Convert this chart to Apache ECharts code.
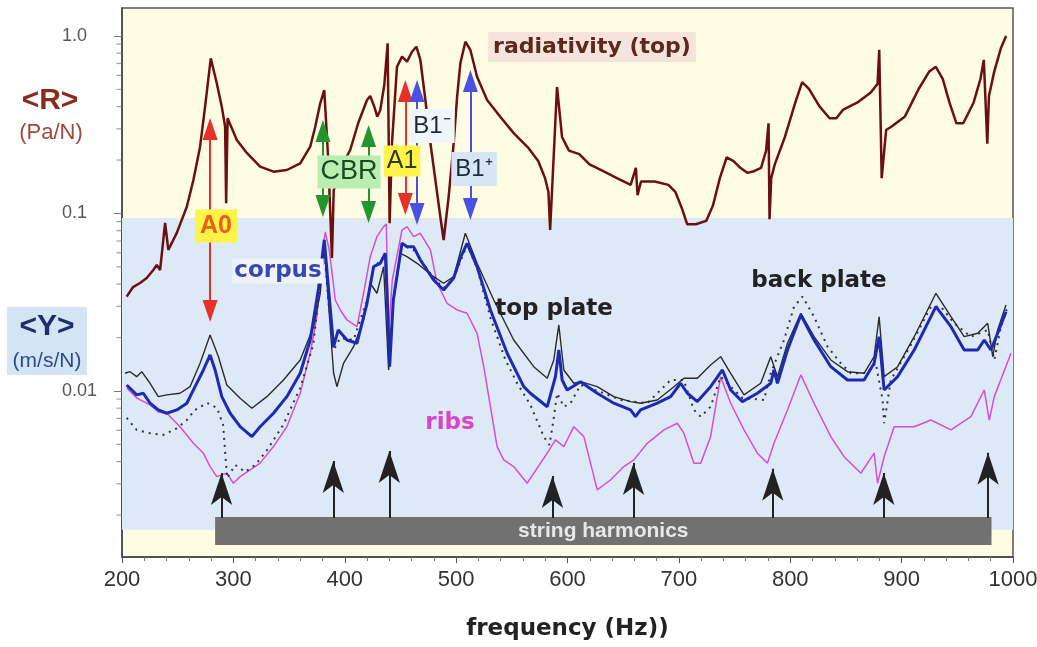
<!DOCTYPE html>
<html>
<head>
<meta charset="utf-8">
<title>radiativity and admittance</title>
<script src="https://cdn.jsdelivr.net/npm/echarts@6/dist/echarts.min.js"></script>
<style>
  html, body { margin: 0; padding: 0; background: #fff; }
  #chart { width: 1037px; height: 647px; }
</style>
</head>
<body>
<div id="chart"></div>
<script>
// radiativity of the top plate <R> (Pa/N)
var radHz = [204.2, 209.9, 216.2, 222.2, 228.1, 231.2, 234.2, 238.7, 241.6, 249.2, 258.2, 264.1, 270.1, 274.6, 279.7,
  285.1, 289.6, 292.6, 293.5, 294.8, 303.1, 312.1, 324.0, 336.0, 348.0, 360.0, 369.0, 373.5, 378.0, 381.6,
  385.2, 388.5, 390.1, 397.8, 404.9, 412.1, 420.0, 422.9, 426.5, 429.2, 431.9, 435.5, 438.5, 440.3, 442.4,
  446.9, 451.4, 455.9, 460.4, 464.3, 467.9, 472.4, 476.9, 485.8, 488.8, 493.3, 497.8, 500.9, 503.8, 508.3,
  512.8, 518.8, 527.8, 539.8, 552.1, 564.4, 573.7, 579.8, 582.9, 584.4, 590.6, 595.1, 601.3, 610.6, 619.8,
  632.1, 644.4, 656.7, 661.4, 662.9, 666.0, 678.3, 690.6, 696.8, 702.9, 707.5, 715.2, 724.5, 730.6, 736.8,
  742.9, 749.1, 755.2, 761.4, 767.5, 773.8, 778.3, 780.5, 781.4, 782.9, 786.1, 795.2, 804.5, 810.7, 816.8,
  826.1, 835.3, 841.4, 847.6, 860.0, 872.3, 878.4, 879.9, 882.1, 886.1, 890.7, 903.0, 915.3, 924.6, 930.7,
  936.9, 943.0, 949.2, 955.3, 964.6, 970.8, 973.8, 976.9, 978.4, 983.1, 989.2, 993.8];
var radVal = [0.0340, 0.0385, 0.0406, 0.0433, 0.0480, 0.0513, 0.0480, 0.0884, 0.0623, 0.0777, 0.1092, 0.1544, 0.2378, 0.3997, 0.749,
  0.5415, 0.3997, 0.3083, 0.1141, 0.3439, 0.2595, 0.2192, 0.1835, 0.1720, 0.1758, 0.1918, 0.2378, 0.3083, 0.4176, 0.4963,
  0.2001, 0.0562, 0.1356, 0.1876, 0.2279, 0.3235, 0.4360, 0.4592, 0.3997, 0.3510, 0.3829, 0.5296, 0.909, 0.0881, 0.2485,
  0.6714, 0.7647, 0.7166, 0.8157, 0.8704, 0.7326, 0.4360, 0.2495, 0.0959, 0.0709, 0.1243, 0.2485, 0.4550, 0.7019, 0.929,
  0.8340, 0.5898, 0.4360, 0.3498, 0.2819, 0.2360, 0.1975, 0.1585, 0.1322, 0.0807, 0.5161, 0.2698, 0.2259, 0.2161, 0.1891,
  0.1731, 0.1582, 0.1449, 0.1809, 0.1268, 0.1515, 0.1515, 0.1449, 0.1325, 0.1062, 0.0869, 0.0869, 0.0908, 0.1110, 0.1582,
  0.2068, 0.1975, 0.1809, 0.1694, 0.1731, 0.1809, 0.2259, 0.3222, 0.0929, 0.1582, 0.1891, 0.2698, 0.4209, 0.5493, 0.5029,
  0.4023, 0.3441, 0.3441, 0.3849, 0.4209, 0.4805, 0.5373, 0.8372, 0.1582, 0.2951, 0.3083, 0.3524, 0.5029, 0.6279, 0.6706,
  0.5739, 0.4209, 0.3222, 0.3222, 0.4209, 0.5739, 0.7333, 0.2470, 0.4597, 0.6279, 0.8570, 1.0];

// corpus mobility <Y> (m/s/N)
var corpusHz = [204.2, 213.2, 219.1, 225.2, 232.6, 240.2, 249.2, 258.2, 265.6, 273.1, 279.1, 283.6, 289.6, 297.1, 306.1,
  316.6, 324.0, 336.0, 348.0, 360.0, 369.0, 376.5, 381.6, 385.4, 390.0, 394.2, 402.0, 411.0, 420.0, 425.9,
  431.9, 436.4, 438.2, 440.3, 443.6, 451.4, 455.9, 461.8, 467.9, 479.8, 488.8, 497.8, 503.8, 509.8, 518.8,
  530.8, 545.8, 560.7, 566.7, 581.8, 589.2, 592.2, 595.2, 599.7, 611.7, 626.7, 641.6, 656.6, 661.1, 665.6,
  680.6, 692.6, 701.6, 707.6, 716.6, 728.5, 739.1, 746.5, 757.0, 770.5, 782.5, 785.4, 788.5, 797.5, 809.5,
  821.4, 836.4, 851.4, 866.3, 875.3, 879.8, 884.3, 896.4, 911.3, 930.8, 944.3, 956.2, 968.3, 974.2, 980.2,
  986.2, 993.7];
var corpusVal = [0.01081, 0.00950, 0.00971, 0.00853, 0.00782, 0.00749, 0.00782, 0.00853, 0.01057, 0.01313, 0.01595, 0.01313, 0.00929, 0.00749, 0.00629,
  0.00553, 0.00629, 0.00749, 0.00929, 0.01258, 0.01938, 0.03790, 0.0709, 0.0379, 0.01777, 0.02207, 0.01938, 0.01857, 0.03119, 0.05015,
  0.05240, 0.05967, 0.03256, 0.01370, 0.03256, 0.06795, 0.06501, 0.06501, 0.05470, 0.04219, 0.03707, 0.04331, 0.05615, 0.06795, 0.05015,
  0.02859, 0.01631, 0.01057, 0.00971, 0.00815, 0.01204, 0.01702, 0.01153, 0.01013, 0.01128, 0.00971, 0.00853, 0.00782, 0.00716, 0.00782,
  0.00853, 0.00929, 0.01105, 0.00971, 0.00871, 0.01057, 0.01313, 0.01013, 0.00871, 0.00971, 0.01105, 0.01313, 0.01105, 0.01702, 0.02680,
  0.01938, 0.01370, 0.01153, 0.01153, 0.01432, 0.02022, 0.01013, 0.01204, 0.01702, 0.02985, 0.02303, 0.01702, 0.01702, 0.01938, 0.01702,
  0.02113, 0.02797];

// top plate mobility
var topHz = [202.7, 207.2, 213.2, 217.7, 225.2, 232.6, 240.2, 252.1, 261.1, 270.1, 279.1, 286.6, 294.1, 306.1, 316.6,
  330.1, 345.0, 360.0, 372.0, 378.0, 381.6, 385.2, 390.0, 393.0, 398.9, 407.9, 416.9, 422.9, 428.9, 434.9,
  439.4, 443.6, 449.9, 455.9, 464.9, 479.8, 488.8, 497.8, 508.3, 518.8, 533.8, 551.7, 569.7, 581.8, 587.7,
  592.2, 596.7, 605.7, 611.7, 626.7, 641.6, 656.6, 665.6, 680.6, 695.6, 704.5, 716.6, 728.5, 737.5, 746.5,
  758.5, 773.5, 782.5, 788.5, 797.5, 809.5, 821.4, 836.4, 851.4, 866.3, 875.3, 879.8, 884.3, 896.4, 911.3,
  930.8, 944.3, 956.2, 968.3, 977.3, 981.8, 986.2, 993.7];
var topVal = [0.01258, 0.01284, 0.01204, 0.01284, 0.01105, 0.00929, 0.00950, 0.00971, 0.01057, 0.01432, 0.02067, 0.01560, 0.01081, 0.00910, 0.00799,
  0.00929, 0.01153, 0.01495, 0.02303, 0.03552, 0.06647, 0.03256, 0.01258, 0.01057, 0.01432, 0.01777, 0.02512, 0.04044, 0.03552, 0.05015,
  0.01313, 0.03256, 0.05967, 0.05710, 0.05240, 0.04405, 0.04044, 0.04405, 0.07734, 0.05240, 0.03256, 0.01938, 0.01370, 0.01179, 0.01495,
  0.02354, 0.01313, 0.01105, 0.01128, 0.01057, 0.00929, 0.00871, 0.00853, 0.00890, 0.01057, 0.01179, 0.01179, 0.01401, 0.01560, 0.01258,
  0.00950, 0.01105, 0.01560, 0.01204, 0.01857, 0.02740, 0.02022, 0.01495, 0.01284, 0.01258, 0.01560, 0.02621, 0.01204, 0.01370, 0.02022,
  0.03552, 0.02621, 0.02022, 0.02113, 0.02406, 0.01560, 0.02207, 0.03051];

// back plate mobility (dotted)
var backHz = [204.2, 213.2, 225.2, 237.1, 249.2, 258.2, 265.6, 276.4, 285.4, 290.8, 294.4, 301.6, 310.6, 319.6, 330.3,
  344.7, 360.0, 371.7, 376.2, 381.6, 385.2, 390.0, 396.0, 407.9, 420.0, 425.9, 436.4, 440.3, 443.6, 451.4,
  461.8, 479.8, 488.8, 497.8, 509.8, 518.8, 530.8, 544.3, 554.8, 566.7, 578.7, 583.8, 587.4, 590.7, 596.7,
  602.7, 611.7, 629.7, 647.6, 671.6, 692.6, 704.3, 713.5, 719.6, 728.5, 737.5, 757.0, 776.4, 782.5, 794.4,
  803.4, 811.0, 821.4, 833.4, 845.4, 854.4, 868.8, 876.8, 882.9, 884.3, 890.3, 908.3, 926.3, 935.3, 947.2,
  962.2, 977.3, 983.2, 989.2, 995.2];
var backVal = [0.00705, 0.00603, 0.00578, 0.00565, 0.00616, 0.00686, 0.00782, 0.00856, 0.00802, 0.00643, 0.00323, 0.00383, 0.00350, 0.00383, 0.00465,
  0.00643, 0.01040, 0.01816, 0.03256, 0.06229, 0.03256, 0.01702, 0.01989, 0.01938, 0.03256, 0.04932, 0.05837, 0.01495, 0.03256, 0.06647,
  0.06229, 0.04331, 0.03804, 0.04331, 0.06647, 0.04932, 0.02577, 0.01495, 0.01105, 0.00834, 0.00553, 0.00496, 0.00686, 0.00971, 0.00815,
  0.00853, 0.01081, 0.00987, 0.00890, 0.00853, 0.01153, 0.01153, 0.00782, 0.00716, 0.00815, 0.01204, 0.00913, 0.00890, 0.01258, 0.01938,
  0.02985, 0.03400, 0.02621, 0.01777, 0.01432, 0.01258, 0.01263, 0.01436, 0.00890, 0.00658, 0.01153, 0.01816, 0.02985, 0.02985, 0.02406,
  0.02022, 0.02207, 0.01495, 0.02303, 0.02985];

// ribs mobility
var ribsHz = [204.2, 213.2, 225.2, 232.6, 240.2, 252.1, 264.1, 273.1, 279.1, 285.1, 294.1, 300.0, 306.1, 315.1, 324.0,
  336.0, 348.0, 360.0, 369.0, 375.0, 378.9, 382.5, 386.1, 391.5, 396.0, 402.0, 411.0, 416.9, 422.9, 428.9,
  434.9, 437.3, 439.4, 442.7, 451.4, 455.9, 461.8, 467.9, 476.9, 482.9, 491.9, 500.9, 509.8, 518.8, 524.8,
  530.8, 536.8, 542.7, 551.7, 563.8, 569.7, 581.8, 589.2, 596.7, 605.7, 614.7, 626.7, 638.6, 650.6, 659.6,
  671.6, 686.6, 698.6, 704.5, 713.5, 719.6, 728.5, 737.5, 746.5, 758.5, 770.5, 779.5, 785.4, 797.5, 809.5,
  821.4, 836.4, 848.4, 863.4, 875.3, 878.4, 884.3, 893.3, 911.3, 926.3, 944.3, 962.2, 974.2, 978.7, 983.2,
  998.2];
var ribsVal = [0.01040, 0.00913, 0.00834, 0.00762, 0.00749, 0.00629, 0.00507, 0.00446, 0.00375, 0.00329, 0.00344, 0.00302, 0.00329, 0.00359, 0.00392,
  0.00486, 0.00629, 0.00971, 0.01631, 0.02621, 0.05470, 0.07866, 0.06229, 0.03256, 0.02859, 0.02512, 0.02303, 0.03552, 0.05710, 0.07401,
  0.08425, 0.08727, 0.02113, 0.04219, 0.0807, 0.08425, 0.07401, 0.07734, 0.06229, 0.04044, 0.03119, 0.02859, 0.02740, 0.02113, 0.01370,
  0.00815, 0.00486, 0.00409, 0.00375, 0.00302, 0.00344, 0.00446, 0.00530, 0.00486, 0.00629, 0.00553, 0.00277, 0.00315, 0.00375, 0.00409,
  0.00507, 0.00603, 0.00658, 0.00578, 0.00392, 0.00392, 0.00553, 0.01204, 0.00853, 0.00603, 0.00446, 0.00392, 0.00507, 0.00782, 0.01231,
  0.00853, 0.00553, 0.00426, 0.00344, 0.00446, 0.00302, 0.00426, 0.00629, 0.00629, 0.00686, 0.00603, 0.00716, 0.01013, 0.00686, 0.00929,
  0.01631];

// string harmonics (Hz) and the height reached by their arrows
var harmonicHz = [289.4, 389.7, 440.0, 586.5, 659.3, 784.3, 884.0, 977.6];
var harmonicTip = [0.00345, 0.00403, 0.00459, 0.00332, 0.00393, 0.00364, 0.00345, 0.00448];
var harmonicBase = 0.001925;
var stringBand = [283.6, 980.7, 0.00195, 0.001356];

// mode markers: name, frequency, upper and lower end of the double arrow
var modeNames = ['A0', 'CBR', 'CBR', 'A1', 'B1-', 'B1+'];
var modeHz = [279.1, 380.4, 421.4, 454.4, 464.9, 512.8];
var modeTop = [0.299, 0.2917, 0.2732, 0.4899, 0.4899, 0.5578];
var modeBottom = [0.0282, 0.1102, 0.1020, 0.1131, 0.0994, 0.1060];
var modeColors = ['#e8302a', '#23952f', '#23952f', '#e8302a', '#4a50e0', '#4a50e0'];

// blue mobility zone
var mobilityBand = [0.0943, 0.00165];

// minor ticks of the log axis (2..9 in every decade)
var minorY = [];
[0.001, 0.01, 0.1, 1].forEach(function (d) {
  for (var k = 2; k <= 9; k++) {
    var v = +(k * d).toPrecision(3);
    if (v > 0.00116 && v < 1.438) minorY.push([200, v]);
  }
});

function pairs(hz, val) {
  return hz.map(function (f, i) { return [f, val[i]]; });
}

var chart = echarts.init(document.getElementById('chart'));

var modeLines = modeHz.map(function (f, i) {
  return [
    { coord: [f, modeTop[i]], lineStyle: { color: modeColors[i] } },
    { coord: [f, modeBottom[i]] }
  ];
});
var harmonicLines = harmonicHz.map(function (f, i) {
  return [{ coord: [f, harmonicBase] }, { coord: [f, harmonicTip[i]] }];
});

var FONT = '"Liberation Sans", Arial, sans-serif';
var WIDE = '"DejaVu Sans", sans-serif';

function label(text, x, y, color, font, bg, pad) {
  return {
    type: 'text', x: x, y: y, z: 100,
    style: {
      text: text, fill: color, font: font,
      align: 'center', verticalAlign: 'middle',
      backgroundColor: bg || null, padding: pad || 0
    }
  };
}

var option = {
  animation: false,
  grid: {
    left: 122, right: 24, top: 8, bottom: 90,
    outerBoundsMode: 'none', containLabel: false,
    show: true, backgroundColor: '#fefce3', borderColor: '#555', borderWidth: 1.5
  },
  xAxis: {
    type: 'value', min: 200, max: 1000, interval: 100,
    name: 'frequency (Hz))', nameLocation: 'middle', nameGap: 61,
    nameTextStyle: { fontSize: 23, fontWeight: 'bold', color: '#222', fontFamily: WIDE },
    axisLine: { lineStyle: { color: '#444', width: 1.5 } },
    axisTick: { show: true, length: 6, lineStyle: { color: '#555' } },
    minorTick: { show: true, splitNumber: 5, length: 4, lineStyle: { color: '#777' } },
    axisLabel: {
      fontSize: 22, color: '#333', margin: 12, fontFamily: FONT,
      formatter: function (v) { return String(v); }
    },
    splitLine: { show: false }
  },
  yAxis: {
    type: 'log', logBase: 10, min: 0.00116, max: 1.438,
    axisLine: { show: true, lineStyle: { color: '#444', width: 1.5 } },
    axisTick: { show: true, length: 8, lineStyle: { color: '#777' } },
    minorTick: { show: false },
    axisLabel: {
      fontSize: 18, color: '#555', margin: 60, align: 'left', fontFamily: FONT,
      showMinLabel: false, showMaxLabel: false,
      formatter: function (v) {
        var e = Math.log(v) / Math.LN10;
        var r = Math.round(e);
        if (Math.abs(e - r) > 1e-6) return '';
        return r === 0 ? '1.0' : r === -1 ? '0.1' : r === -2 ? '0.01' : '';
      }
    },
    splitLine: { show: false }
  },
  series: [
    {
      name: 'zones', type: 'line', z: 1, silent: true, symbol: 'none',
      data: [[200, 0.01]], lineStyle: { opacity: 0 },
      markArea: {
        silent: true,
        label: { show: false },
        data: [
          [{ yAxis: mobilityBand[0], itemStyle: { color: '#dde9f6' } }, { yAxis: mobilityBand[1] }],
          [{
            coord: [stringBand[0], stringBand[2]], itemStyle: { color: '#717171' },
            label: {
              show: true, position: 'inside', formatter: 'string harmonics',
              color: '#e8e8e8', fontSize: 21, fontWeight: 'bold', fontFamily: FONT
            }
          }, { coord: [stringBand[1], stringBand[3]] }]
        ]
      }
    },
    {
      name: 'minor ticks', type: 'scatter', z: 4, silent: true, clip: false,
      data: minorY, symbol: 'rect', symbolSize: [5, 1.2], symbolOffset: [-3, 0],
      itemStyle: { color: '#888' }
    },
    {
      name: 'ribs', type: 'line', z: 2, symbol: 'none', data: pairs(ribsHz, ribsVal),
      lineStyle: { color: '#d64fce', width: 1.5 }
    },
    {
      name: 'back plate', type: 'line', z: 2, symbol: 'none', data: pairs(backHz, backVal),
      lineStyle: { color: '#333', width: 2, type: [2, 5] }
    },
    {
      name: 'top plate', type: 'line', z: 2, symbol: 'none', data: pairs(topHz, topVal),
      lineStyle: { color: '#2b2b2b', width: 1.4 }
    },
    {
      name: 'corpus', type: 'line', z: 2, symbol: 'none', data: pairs(corpusHz, corpusVal),
      lineStyle: { color: '#1f2ab0', width: 3 }
    },
    {
      name: 'radiativity', type: 'line', z: 2, symbol: 'none', data: pairs(radHz, radVal),
      lineStyle: { color: '#6b1010', width: 2.5 }
    },
    {
      name: 'modes', type: 'line', z: 3, silent: true, symbol: 'none',
      data: [[200, 0.01]], lineStyle: { opacity: 0 },
      markLine: {
        silent: true, symbol: ['triangle', 'triangle'], symbolSize: [15, 22],
        label: { show: false }, lineStyle: { width: 2, type: 'solid' },
        data: modeLines
      }
    },
    {
      name: 'harmonics', type: 'line', z: 3, silent: true, symbol: 'none',
      data: [[200, 0.01]], lineStyle: { opacity: 0 },
      markLine: {
        silent: true, symbol: ['none', 'arrow'], symbolSize: [16, 32],
        label: { show: false }, lineStyle: { width: 2, type: 'solid', color: '#222' },
        data: harmonicLines
      }
    }
  ],
  graphic: [
    { type: 'rect', z: 99, shape: { x: 7, y: 307, width: 80, height: 68 }, style: { fill: '#d3e4f5' } },
    label('<R>', 50, 101, '#8b2a1f', 'bold 30px ' + FONT),
    label('(Pa/N)', 51, 133, '#9b4a3a', '22px ' + FONT),
    label('<Y>', 47, 327, '#1e2f6e', 'bold 30px ' + FONT),
    label('(m/s/N)', 47, 361, '#2d4d85', '21px ' + FONT),
    label('radiativity (top)', 592, 47, '#5b2a1e', 'bold 22px ' + WIDE, '#f6e4dc', [4, 5]),
    label(modeNames[0], 216, 226, '#e8601a', 'bold 25px ' + FONT, '#fff34a', [4, 5]),
    label(modeNames[1], 349, 172, '#1d4a22', '27px ' + FONT, '#b8eeb2', [3, 3]),
    label(modeNames[3], 402, 161, '#2a3a1a', '25px ' + FONT, '#fff34a', [3, 3]),
    label('B1\u207B', 432, 126, '#1e2a3a', '24px ' + FONT, '#eef6fa', [5, 4]),
    label('B1\u207A', 474, 169, '#1e2a3a', '24px ' + FONT, '#d6e6f4', [5, 4]),
    label('corpus', 278, 271, '#3a48b0', 'bold 23px ' + WIDE, '#eef3fa', [1, 2]),
    label('top plate', 554, 309, '#222', 'bold 23px ' + WIDE),
    label('back plate', 819, 281, '#222', 'bold 23px ' + WIDE),
    label('ribs', 450, 423, '#d845c8', 'bold 23px ' + WIDE)
  ]
};

chart.setOption(option);
</script>
</body>
</html>
